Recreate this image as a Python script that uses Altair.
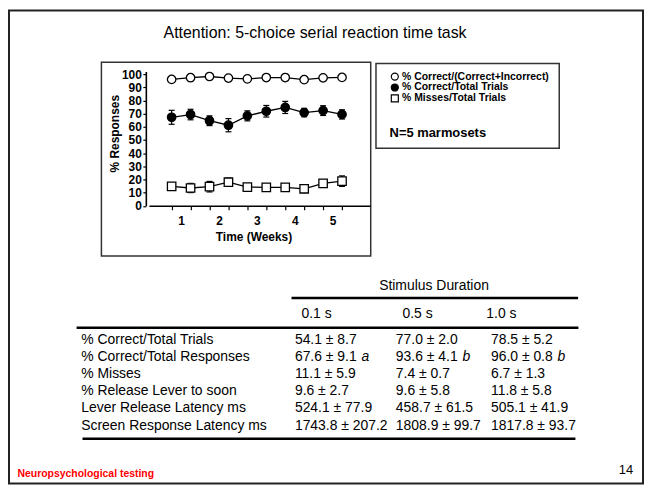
import altair as alt
import pandas as pd

# ---------------- data ----------------
weeks = [0.75, 1.25, 1.75, 2.25, 2.75, 3.25, 3.75, 4.25, 4.75, 5.25]
correct_of_responses = [96.0, 97.3, 98.2, 97.0, 96.4, 97.4, 97.4, 95.8, 97.2, 97.5]
correct_of_trials = [67.2, 69.3, 64.6, 61.2, 68.3, 71.8, 74.7, 70.8, 72.3, 69.4]
correct_of_trials_err = [5.3, 4.0, 3.7, 5.0, 3.8, 4.4, 4.6, 3.2, 3.7, 3.5]
misses_of_trials = [14.7, 13.5, 14.5, 17.9, 14.2, 14.0, 14.0, 12.9, 17.0, 18.7]
misses_of_trials_err = [2.0, 3.5, 4.0, 3.0, 2.0, 2.5, 2.0, 1.0, 2.5, 4.0]

series_names = ["% Correct/(Correct+Incorrect)", "% Correct/Total Trials", "% Misses/Total Trials"]
series_fills = ["white", "black", "white"]
series_strokes = ["black", "black", "black"]
series_shapes = ["circle", "circle", "square"]

week_labels = [1, 2, 3, 4, 5]
pct_ticks = [0, 10, 20, 30, 40, 50, 60, 70, 80, 90, 100]

slide_title = "Attention: 5-choice serial reaction time task"
legend_note = "N=5 marmosets"
x_title = "Time (Weeks)"
y_title = "% Responses"

table_caption = "Stimulus Duration"
durations = ["0.1 s", "0.5 s", "1.0 s"]
measures = [
    "% Correct/Total Trials",
    "% Correct/Total Responses",
    "% Misses",
    "% Release Lever to soon",
    "Lever Release Latency ms",
    "Screen Response Latency ms",
]
vals_01 = ["54.1 \u00b1 8.7", "67.6 \u00b1 9.1", "11.1 \u00b1 5.9", "9.6 \u00b1 2.7", "524.1 \u00b1 77.9", "1743.8 \u00b1 207.2"]
vals_05 = ["77.0 \u00b1 2.0", "93.6 \u00b1 4.1", "7.4 \u00b1 0.7", "9.6 \u00b1 5.8", "458.7 \u00b1 61.5", "1808.9 \u00b1 99.7"]
vals_10 = ["78.5 \u00b1 5.2", "96.0 \u00b1 0.8", "6.7 \u00b1 1.3", "11.8 \u00b1 5.8", "505.1 \u00b1 41.9", "1817.8 \u00b1 93.7"]
marks_01 = ["", "a", "", "", "", ""]
marks_05 = ["", "b", "", "", "", ""]
marks_10 = ["", "b", "", "", "", ""]

footer = "Neuropsychological testing"
page_no = "14"

FONT = "Liberation Sans"

# ---------------- tables for the library ----------------
plot_df = pd.DataFrame({
    "week": weeks * 3,
    "series": [series_names[0]] * len(weeks) + [series_names[1]] * len(weeks) + [series_names[2]] * len(weeks),
    "value": correct_of_responses + correct_of_trials + misses_of_trials,
})
err_df = pd.DataFrame({
    "week": weeks * 2,
    "series": [series_names[1]] * len(weeks) + [series_names[2]] * len(weeks),
    "value": correct_of_trials + misses_of_trials,
    "err": correct_of_trials_err + misses_of_trials_err,
})

rows = []
for i, m in enumerate(measures):
    rows.append({"measure": m, "col": 0, "text": m, "mark": ""})
    rows.append({"measure": m, "col": 1, "text": vals_01[i], "mark": marks_01[i]})
    rows.append({"measure": m, "col": 2, "text": vals_05[i], "mark": marks_05[i]})
    rows.append({"measure": m, "col": 3, "text": vals_10[i], "mark": marks_10[i]})
table_df = pd.DataFrame(rows)
header_df = pd.DataFrame({"col": [1, 2, 3], "text": durations})
one = pd.DataFrame({"k": [0]})

# ---------------- scatter plot ----------------
X_SCALE = alt.Scale(domain=[0.15, 6.0], range=[141.8, 364.7], nice=False, zero=False)
Y_SCALE = alt.Scale(domain=[0, 102], range=[197.5, 62.4], nice=False, zero=False)

x_axis = alt.Axis(
    orient="bottom", offset=197.5 - 478, values=sorted(weeks + week_labels), zindex=2,
    labelExpr="datum.value % 1 === 0 ? format(datum.value, 'd') : ''",
    tickOpacity={"condition": {"test": "datum.value % 1 !== 0", "value": 1}, "value": 0},
    tickSize=4, tickWidth=1.2, tickColor="black", domainColor="black", domainWidth=1.6,
    labelFont=FONT, labelFontSize=12, labelFontWeight="bold", labelColor="black", labelPadding=6,
    labelOverlap=False, labelFlush=False, grid=False,
    title=x_title, titleFont=FONT, titleFontSize=12, titleFontWeight="bold", titleColor="black",
    titleX=247, titleY=31, titleBaseline="middle", titleAlign="center",
)
y_axis = alt.Axis(
    orient="left", offset=-138.7, values=pct_ticks, zindex=2,
    tickSize=3, tickWidth=1.2, tickColor="black", domainColor="black", domainWidth=1.6,
    labelFont=FONT, labelFontSize=12, labelFontWeight="bold", labelColor="black", labelPadding=1.5,
    labelOverlap=False, labelFlush=False, grid=False,
    title=y_title, titleFont=FONT, titleFontSize=12, titleFontWeight="bold", titleColor="black",
    titleX=-31.5, titleY=124.5, titleBaseline="middle", titleAlign="center", titleAngle=270,
)

legend = alt.Legend(
    orient="none", legendX=384, legendY=63, title=legend_note, titleOrient="bottom",
    titleAnchor="start", titleFont=FONT, titleFontSize=13, titleFontWeight="bold", titleColor="black",
    titlePadding=23, labelFont=FONT, labelFontSize=10.5, labelFontWeight="bold", labelColor="black",
    symbolSize=50, symbolStrokeColor="black", symbolStrokeWidth=1.2, labelOffset=2,
    rowPadding=0, clipHeight=9, padding=0, labelLimit=400,
)

base = alt.Chart(plot_df).encode(
    x=alt.X("week:Q", scale=X_SCALE, axis=x_axis),
    y=alt.Y("value:Q", scale=Y_SCALE, axis=y_axis),
)
lines = base.mark_line(color="black", strokeWidth=1.3).encode(detail="series:N")
points = base.mark_point(filled=True, size=72, strokeWidth=1.3, opacity=1).encode(
    fill=alt.Fill("series:N", scale=alt.Scale(domain=series_names, range=series_fills), legend=legend),
    stroke=alt.Stroke("series:N", scale=alt.Scale(domain=series_names, range=series_strokes), legend=legend),
    shape=alt.Shape("series:N", scale=alt.Scale(domain=series_names, range=series_shapes), legend=legend),
)
err_base = alt.Chart(err_df).transform_calculate(
    lo="datum.value - datum.err", hi="datum.value + datum.err"
)
err_rule = err_base.mark_rule(color="black", strokeWidth=1.2).encode(
    x=alt.X("week:Q", scale=X_SCALE, axis=x_axis),
    y=alt.Y("lo:Q", scale=Y_SCALE, axis=y_axis),
    y2="hi:Q",
)
cap_lo = err_base.mark_tick(orient="horizontal", size=6, thickness=1.2, color="black", opacity=1).encode(
    x=alt.X("week:Q", scale=X_SCALE, axis=x_axis),
    y=alt.Y("lo:Q", scale=Y_SCALE, axis=y_axis),
)
cap_hi = err_base.mark_tick(orient="horizontal", size=6, thickness=1.2, color="black", opacity=1).encode(
    x=alt.X("week:Q", scale=X_SCALE, axis=x_axis),
    y=alt.Y("hi:Q", scale=Y_SCALE, axis=y_axis),
)
plot_group = alt.layer(lines, err_rule, cap_lo, cap_hi, points)

# ---------------- decorations (frames / rules) ----------------
def box(x1, y1, x2, y2, sw, color="#333333", fill_opacity=0.0):
    return alt.Chart(one).mark_rect(
        fill="white", fillOpacity=fill_opacity, stroke=color, strokeWidth=sw
    ).encode(x=alt.value(x1), x2=alt.value(x2), y=alt.value(y1), y2=alt.value(y2))

def hrule(x1, x2, y, sw):
    return alt.Chart(one).mark_rule(color="black", strokeWidth=sw).encode(
        x=alt.value(x1), x2=alt.value(x2), y=alt.value(y)
    )

def label(text, x, y, size, align="center", weight="normal", color="black"):
    return alt.Chart(one).mark_text(
        text=text, font=FONT, fontSize=size, align=align, baseline="middle",
        fontWeight=weight, color=color,
    ).encode(x=alt.value(x), y=alt.value(y))

frame = box(1, 1, 639, 477, 2, "#222222")
chart_box = box(94, 53, 365, 248, 1.5)
legend_box = box(370.3, 54.3, 554.7, 139.7, 1.5, fill_opacity=1.0)

# ---------------- table ----------------
COL_SCALE = alt.Scale(domain=[0, 1, 2, 3], range=[73.7, 288.7, 390.3, 486.0], nice=False, zero=False)
ROW_SCALE = alt.Scale(domain=measures, range=[332.7, 418.7], padding=0)
table_body = alt.Chart(table_df).mark_text(
    font=FONT, fontSize=14, align="left", baseline="middle", color="black"
).encode(
    x=alt.X("col:Q", scale=COL_SCALE, axis=None),
    y=alt.Y("measure:N", scale=ROW_SCALE, axis=None),
    text="text:N",
)
table_marks = alt.Chart(table_df).transform_filter("datum.mark !== ''").mark_text(
    font=FONT, fontSize=14, align="left", baseline="middle", color="black", fontStyle="italic", dx=67
).encode(
    x=alt.X("col:Q", scale=COL_SCALE, axis=None),
    y=alt.Y("measure:N", scale=ROW_SCALE, axis=None),
    text="mark:N",
)
table_head = alt.Chart(header_df).mark_text(
    font=FONT, fontSize=14, align="left", baseline="middle", color="black"
).encode(
    x=alt.X("col:Q", scale=alt.Scale(domain=[1, 2, 3], range=[295.3, 397.0, 481.3], nice=False, zero=False), axis=None),
    y=alt.value(306),
    text="text:N",
)

chart = alt.layer(
    frame, chart_box, legend_box,
    plot_group,
    label(slide_title, 309, 23.7, 16),
    label(table_caption, 428.7, 278.7, 14),
    hrule(285.3, 573.7, 290.3, 2.5),
    hrule(69, 574, 320.3, 2.5),
    hrule(75, 571, 432, 2.5),
    table_head, table_body, table_marks,
    label(footer, 9.5, 467, 10.5, align="left", weight="bold", color="#ff0000"),
    label(page_no, 629, 463.7, 13, align="right"),
).resolve_scale(
    x="independent", y="independent"
).properties(
    width=640, height=478, autosize=alt.AutoSizeParams(type="none"), padding=0
).configure_view(strokeWidth=0)

chart.save("out.html", embed_options={"renderer": "svg", "actions": False})
